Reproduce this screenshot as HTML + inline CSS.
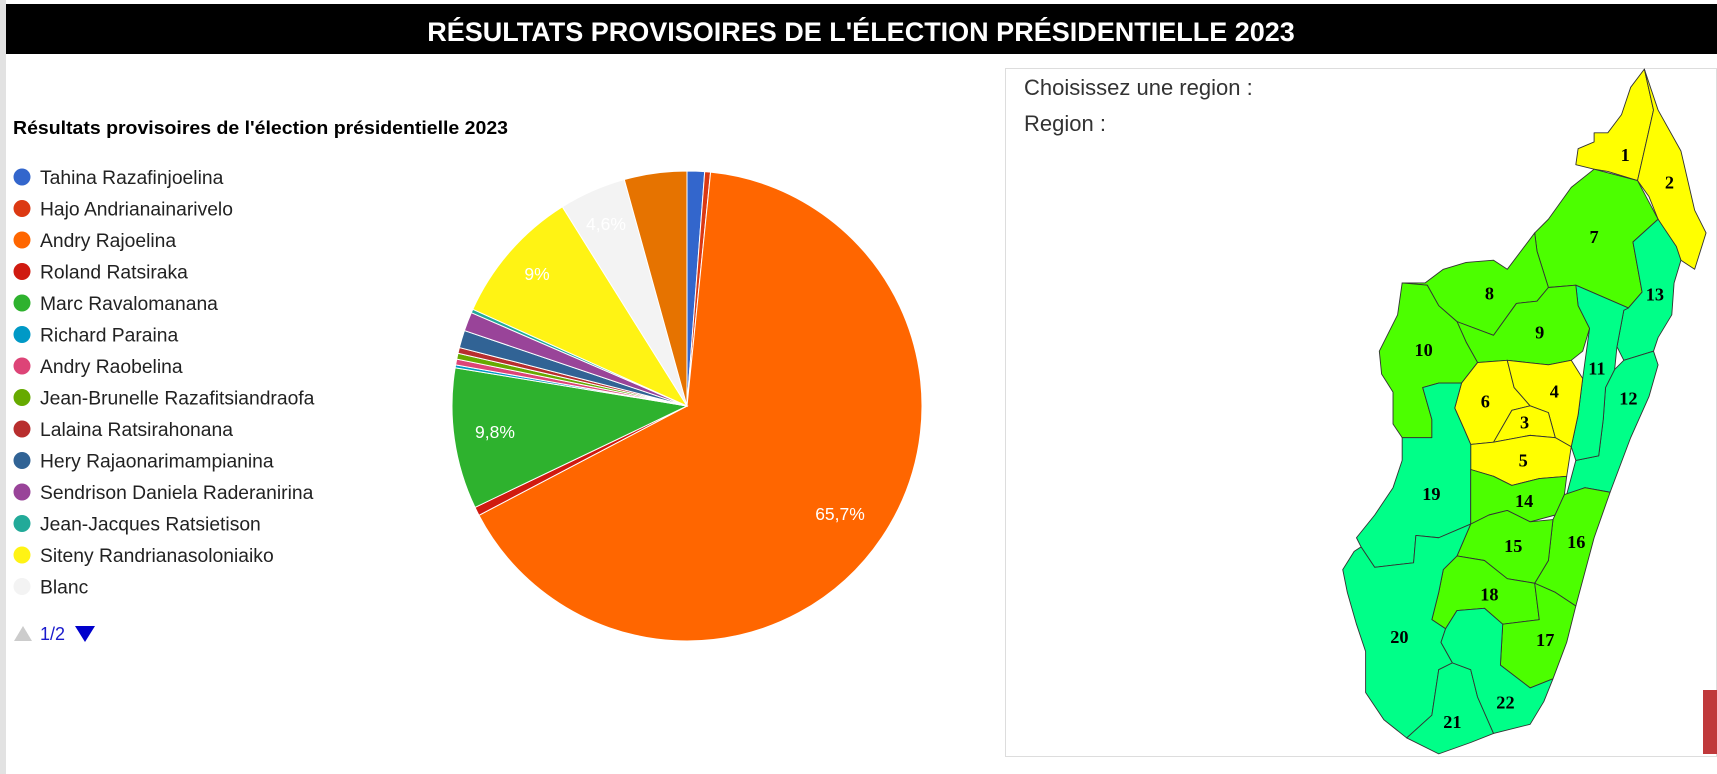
<!DOCTYPE html>
<html><head><meta charset="utf-8"><style>
html,body{margin:0;padding:0;background:#fff;width:1717px;height:774px;overflow:hidden}
svg{display:block}
</style></head><body>
<svg id="s" width="1717" height="774" viewBox="0 0 1717 774" xmlns="http://www.w3.org/2000/svg" font-family="Liberation Sans, Arial, sans-serif">
<rect x="0" y="0" width="6" height="774" fill="#e2e2e2"/>
<rect x="6" y="4" width="1711" height="50" fill="#000"/>
<text x="861" y="41" text-anchor="middle" fill="#fff" font-size="27" font-weight="bold">RÉSULTATS PROVISOIRES DE L'ÉLECTION PRÉSIDENTIELLE 2023</text>
<text x="13" y="134" font-size="18.8" font-weight="bold" fill="#000" textLength="495" lengthAdjust="spacingAndGlyphs">Résultats provisoires de l'élection présidentielle 2023</text>
<g id="legend" font-size="19.3" fill="#222"></g>
<polygon points="14,641 23,626 32,641" fill="#ccc"/>
<text x="40" y="640" font-size="18" fill="#1a1acc">1/2</text>
<polygon points="75,626 95,626 85,642" fill="#0000cc"/>
<g id="pie"></g>
<g font-size="17.5" fill="#fff" text-anchor="middle">
<text x="840" y="520">65,7%</text>
<text x="495" y="438">9,8%</text>
<text x="537" y="280">9%</text>
<text x="606" y="230">4,6%</text>
</g>
<rect x="1005.5" y="68.5" width="711" height="688" fill="none" stroke="#ddd"/>
<text x="1024" y="95" font-size="22" fill="#333">Choisissez une region :</text>
<text x="1024" y="131" font-size="22" fill="#333">Region :</text>
<g transform="translate(1000,60) scale(0.457,0.455)" stroke="#333" stroke-width="2" stroke-linejoin="round">
<polygon fill="#ffff00" points="1410,20 1430,110 1395,265 1330,245 1300,240 1260,230 1265,195 1300,180 1300,160 1330,160 1360,120 1380,60"/>
<polygon fill="#ffff00" points="1410,20 1440,110 1490,200 1520,330 1545,380 1520,460 1490,440 1480,420 1440,350 1420,300 1395,265 1430,110"/>
<polygon fill="#4cff00" points="1300,240 1395,265 1440,350 1385,400 1405,510 1375,545 1260,495 1200,500 1175,420 1170,380 1200,350 1250,280"/>
<polygon fill="#00ff88" points="1440,350 1480,410 1490,440 1475,490 1470,560 1440,610 1430,640 1365,660 1350,630 1365,550 1375,545 1405,510 1385,400"/>
<polygon fill="#00ff88" points="1365,660 1430,640 1440,670 1420,740 1380,830 1335,950 1280,940 1240,955 1260,880 1310,870 1320,790 1325,720 1345,680"/>
<polygon fill="#00ff88" points="1260,495 1375,545 1365,550 1350,630 1345,680 1325,720 1320,790 1310,870 1260,880 1250,850 1265,780 1275,700 1290,590 1265,540"/>
<polygon fill="#4cff00" points="880,490 930,490 970,460 1020,445 1080,440 1110,460 1170,380 1175,420 1200,500 1175,530 1130,535 1080,605 1000,575 960,540 935,495"/>
<polygon fill="#4cff00" points="1000,575 1080,605 1130,535 1175,530 1200,500 1260,495 1265,540 1290,590 1275,640 1250,660 1200,670 1110,660 1045,665 1020,620"/>
<polygon fill="#4cff00" points="880,490 935,495 960,540 1000,575 1020,620 1045,665 1010,710 960,710 925,720 945,790 945,830 880,830 860,800 860,730 835,690 830,640 870,560"/>
<polygon fill="#ffff00" points="1045,665 1110,660 1125,720 1160,760 1120,770 1080,840 1030,845 1015,810 995,765 1010,710"/>
<polygon fill="#ffff00" points="1110,660 1200,670 1250,660 1275,700 1265,780 1250,850 1215,830 1200,775 1160,760 1125,720"/>
<polygon fill="#ffff00" points="1160,760 1200,775 1215,830 1160,825 1080,840 1120,770"/>
<polygon fill="#ffff00" points="1030,845 1080,840 1160,825 1215,830 1250,850 1240,915 1180,920 1120,935 1080,915 1030,900"/>
<polygon fill="#00ff88" points="925,720 960,710 1010,710 995,765 1015,810 1030,845 1030,900 1030,1020 960,1050 910,1045 905,1105 820,1115 790,1070 780,1050 820,1000 860,940 880,880 880,830 945,830 945,790"/>
<polygon fill="#4cff00" points="1030,900 1080,915 1120,935 1180,920 1240,915 1235,955 1215,1000 1160,1015 1110,990 1070,1000 1030,1020"/>
<polygon fill="#4cff00" points="1235,955 1280,940 1335,950 1300,1050 1260,1200 1215,1170 1170,1150 1200,1100 1210,1010"/>
<polygon fill="#4cff00" points="1030,1020 1070,1000 1110,990 1160,1015 1210,1010 1200,1100 1170,1150 1110,1140 1060,1100 1000,1090"/>
<polygon fill="#4cff00" points="1000,1090 1060,1100 1110,1140 1170,1150 1180,1230 1140,1235 1100,1240 1060,1205 1000,1210 975,1250 945,1230 960,1170 970,1120"/>
<polygon fill="#4cff00" points="1170,1150 1215,1170 1260,1200 1240,1280 1210,1360 1160,1380 1095,1330 1100,1240 1140,1235 1180,1230"/>
<polygon fill="#00ff88" points="790,1070 820,1115 905,1105 910,1045 960,1050 1030,1020 1000,1090 970,1120 960,1170 945,1230 975,1250 965,1280 990,1325 960,1340 945,1440 890,1490 840,1450 800,1390 800,1300 780,1240 760,1170 750,1120 775,1080"/>
<polygon fill="#00ff88" points="960,1340 990,1325 1030,1340 1045,1400 1080,1480 1030,1500 960,1525 890,1490 945,1440"/>
<polygon fill="#00ff88" points="990,1325 965,1280 975,1250 1000,1210 1060,1205 1100,1240 1095,1330 1160,1380 1210,1360 1190,1410 1160,1460 1080,1480 1045,1400 1030,1340"/>
<g font-family="Liberation Serif, serif" font-weight="bold" font-size="40" fill="#000" stroke="none" text-anchor="middle">
<text x="1368" y="222">1</text><text x="1465" y="282">2</text><text x="1148" y="810">3</text><text x="1213" y="742">4</text>
<text x="1145" y="893">5</text><text x="1062" y="764">6</text><text x="1300" y="402">7</text><text x="1071" y="526">8</text>
<text x="1181" y="612">9</text><text x="927" y="651">10</text><text x="1306" y="691">11</text><text x="1375" y="757">12</text>
<text x="1433" y="529">13</text><text x="1147" y="982">14</text><text x="1123" y="1081">15</text><text x="1261" y="1072">16</text>
<text x="1193" y="1288">17</text><text x="1071" y="1188">18</text><text x="944" y="967">19</text><text x="874" y="1281">20</text>
<text x="990" y="1468">21</text><text x="1106" y="1425">22</text>
</g>
</g>
<rect x="1703" y="690" width="14" height="64" fill="#c0393b"/>
</svg>
<script>
var NS="http://www.w3.org/2000/svg";
var items=[["Tahina Razafinjoelina","#3366cc",1.2],["Hajo Andrianainarivelo","#dc3912",0.4],["Andry Rajoelina","#ff6600",65.7],["Roland Ratsiraka","#d01a10",0.6],["Marc Ravalomanana","#2eb22e",9.7],["Richard Paraina","#0099c6",0.2],["Andry Raobelina","#dd4477",0.4],["Jean-Brunelle Razafitsiandraofa","#66aa00",0.4],["Lalaina Ratsirahonana","#b82e2e",0.4],["Hery Rajaonarimampianina","#316395",1.2],["Sendrison Daniela Raderanirina","#994499",1.3],["Jean-Jacques Ratsietison","#22aa99",0.25],["Siteny Randrianasoloniaiko","#fff314",9.35],["Blanc","#f3f3f3",4.6],["x","#e67300",4.3]];
var lg=document.getElementById("legend"),pie=document.getElementById("pie");
var cx=687,cy=406,r=235,a=0;
items.forEach(function(it,i){
 if(i<14){var c=document.createElementNS(NS,"circle");c.setAttribute("cx",22);c.setAttribute("cy",177+i*31.5);c.setAttribute("r",8.5);c.setAttribute("fill",it[1]);lg.appendChild(c);
 var t=document.createElementNS(NS,"text");t.setAttribute("x",40);t.setAttribute("y",184+i*31.5);t.textContent=it[0];lg.appendChild(t);}
 var a0=a/100*2*Math.PI,a1=(a+it[2])/100*2*Math.PI;a+=it[2];
 var x0=cx+r*Math.sin(a0),y0=cy-r*Math.cos(a0),x1=cx+r*Math.sin(a1),y1=cy-r*Math.cos(a1);
 var p=document.createElementNS(NS,"path");
 p.setAttribute("d","M"+cx+","+cy+"L"+x0+","+y0+"A"+r+","+r+" 0 "+(it[2]>50?1:0)+" 1 "+x1+","+y1+"Z");
 p.setAttribute("fill",it[1]);p.setAttribute("stroke","#fff");p.setAttribute("stroke-width","1");pie.appendChild(p);
});
</script>
</body></html>
